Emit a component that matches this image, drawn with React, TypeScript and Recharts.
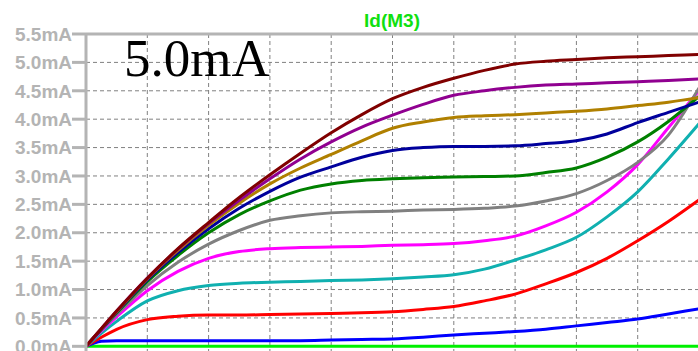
import React from "react";
import {
  LineChart,
  Line,
  XAxis,
  YAxis,
  CartesianGrid,
  ReferenceLine,
} from "recharts";

// Vds sweep points (one grid division = 1 unit)
const vds = [0, 0.25, 0.5, 1, 1.5, 2, 2.5, 3, 3.5, 4, 4.5, 5, 5.5, 6, 6.5, 7, 7.5, 8, 8.5, 9, 9.5, 10];

// Id(M3) in mA, one array per gate step
const idStep0 = [0, 0, 0, 0, 0, 0, 0, 0, 0, 0, 0, 0, 0, 0, 0, 0, 0, 0, 0, 0, 0, 0];
const idStep1 = [0, 0.09, 0.1, 0.1, 0.1, 0.1, 0.1, 0.1, 0.1, 0.11, 0.12, 0.13, 0.16, 0.2, 0.23, 0.26, 0.3, 0.36, 0.42, 0.48, 0.57, 0.66];
const idStep2 = [0, 0.16, 0.3, 0.47, 0.53, 0.55, 0.55, 0.56, 0.57, 0.58, 0.59, 0.61, 0.65, 0.7, 0.8, 0.92, 1.1, 1.3, 1.55, 1.86, 2.2, 2.58];
const idStep3 = [0, 0.23, 0.44, 0.8, 0.98, 1.07, 1.11, 1.13, 1.14, 1.16, 1.17, 1.19, 1.22, 1.26, 1.36, 1.52, 1.7, 1.92, 2.28, 2.72, 3.3, 3.92];
const idStep4 = [0, 0.27, 0.52, 0.98, 1.32, 1.55, 1.67, 1.72, 1.74, 1.75, 1.76, 1.78, 1.79, 1.81, 1.86, 1.94, 2.12, 2.36, 2.72, 3.2, 3.85, 4.5];
const idStep5 = [0, 0.29, 0.56, 1.07, 1.48, 1.8, 2.04, 2.22, 2.3, 2.35, 2.37, 2.38, 2.4, 2.41, 2.43, 2.47, 2.56, 2.69, 2.92, 3.24, 3.72, 4.55];
const idStep6 = [0, 0.3, 0.59, 1.14, 1.6, 2.0, 2.32, 2.56, 2.75, 2.86, 2.92, 2.95, 2.97, 2.98, 2.99, 3.0, 3.06, 3.14, 3.33, 3.6, 3.96, 4.4];
const idStep7 = [0, 0.3, 0.6, 1.17, 1.65, 2.07, 2.43, 2.73, 2.98, 3.16, 3.33, 3.45, 3.5, 3.52, 3.52, 3.53, 3.57, 3.62, 3.74, 3.94, 4.12, 4.3];
const idStep8 = [0, 0.31, 0.61, 1.19, 1.69, 2.13, 2.52, 2.86, 3.14, 3.38, 3.62, 3.84, 3.95, 4.03, 4.06, 4.08, 4.11, 4.14, 4.18, 4.24, 4.3, 4.38];
const idStep9 = [0, 0.31, 0.62, 1.2, 1.71, 2.16, 2.57, 2.95, 3.3, 3.6, 3.86, 4.07, 4.26, 4.42, 4.5, 4.56, 4.6, 4.62, 4.64, 4.66, 4.68, 4.71];
const idStep10 = [0, 0.31, 0.62, 1.2, 1.72, 2.18, 2.62, 3.02, 3.4, 3.76, 4.08, 4.36, 4.56, 4.72, 4.86, 4.97, 5.02, 5.05, 5.08, 5.1, 5.12, 5.14];

const seriesColors = [
  "#00f000", "#0000ff", "#ff0000", "#10b0b0", "#ff00ff", "#808080",
  "#008000", "#00009c", "#b08000", "#900090", "#800000",
];
const allSteps = [idStep0, idStep1, idStep2, idStep3, idStep4, idStep5, idStep6, idStep7, idStep8, idStep9, idStep10];

const yTicks = [0, 0.5, 1, 1.5, 2, 2.5, 3, 3.5, 4, 4.5, 5, 5.5];
const xTicks = [0, 1, 2, 3, 4, 5, 6, 7, 8, 9, 10];

const data = vds.map((v, i) => {
  const row: Record<string, number> = { vds: v };
  allSteps.forEach((s, k) => {
    row["s" + k] = s[i];
  });
  return row;
});

const axisGray = "#b4b4b4";

export default function App() {
  return (
    <div
      style={{
        position: "fixed",
        top: 0,
        left: 0,
        width: 698,
        height: 351,
        overflow: "hidden",
        background: "#fff",
      }}
    >
      <LineChart
        width={720}
        height={360}
        data={data}
        margin={{ top: 34, right: 21, left: 0, bottom: 8 }}
      >
        <CartesianGrid stroke="#808080" strokeDasharray="4 3" />
        <XAxis
          dataKey="vds"
          type="number"
          domain={[0, 10]}
          ticks={xTicks}
          hide
        />
        <YAxis
          type="number"
          domain={[-0.1, 5.5]}
          ticks={yTicks}
          width={86}
          tickSize={14}
          tickMargin={0}
          axisLine={{ stroke: axisGray, strokeWidth: 3 }}
          tickLine={{ stroke: axisGray, strokeWidth: 3 }}
          tick={{
            fill: axisGray,
            fontFamily: "Liberation Sans",
            fontWeight: "bold",
            fontSize: 19,
          }}
          tickFormatter={(v: number) => `${v.toFixed(1)}mA`}
          allowDataOverflow
        />
        <ReferenceLine y={5.5} stroke={axisGray} strokeWidth={3} />
        {allSteps.map((_, k) => (
          <Line
            key={k}
            type="monotone"
            dataKey={"s" + k}
            stroke={seriesColors[k]}
            strokeWidth={3}
            dot={false}
            isAnimationActive={false}
          />
        ))}
      </LineChart>
      <svg
        width={698}
        height={351}
        style={{ position: "absolute", top: 0, left: 0, pointerEvents: "none" }}
      >
        <text
          x={392}
          y={27}
          textAnchor="middle"
          fill="#10e010"
          fontFamily="Liberation Sans"
          fontWeight="bold"
          fontSize={19}
        >
          Id(M3)
        </text>
        <text
          x={124}
          y={76}
          fill="#000"
          fontFamily="Liberation Serif"
          fontSize={53}
        >
          5.0mA
        </text>
      </svg>
    </div>
  );
}
